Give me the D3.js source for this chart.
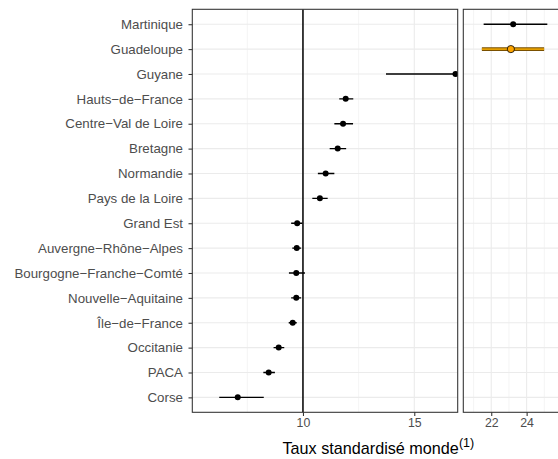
<!DOCTYPE html>
<html><head><meta charset="utf-8">
<script src="https://cdn.jsdelivr.net/npm/d3@7"></script>
<style>body{margin:0;background:#fff}svg{display:block;font-family:"Liberation Sans",Arial,sans-serif}</style>
</head><body><svg id="c" width="558" height="459"></svg>
<script>
// Regions (top to bottom)
const regions = ["Martinique","Guadeloupe","Guyane","Hauts\u2212de\u2212France","Centre\u2212Val de Loire","Bretagne","Normandie","Pays de la Loire","Grand Est","Auvergne\u2212Rh\u00f4ne\u2212Alpes","Bourgogne\u2212Franche\u2212Comt\u00e9","Nouvelle\u2212Aquitaine","\u00cele\u2212de\u2212France","Occitanie","PACA","Corse"];
const panel = ["right","right","left","left","left","left","left","left","left","left","left","left","left","left","left","left"];
const rate  = [23.24,23.11,16.85,11.92,11.80,11.56,11.02,10.76,9.74,9.72,9.70,9.70,9.54,8.91,8.46,7.07];
const lower = [21.57,21.47,13.73,11.63,11.41,11.20,10.67,10.42,9.47,9.52,9.37,9.47,9.36,8.68,8.22,6.24];
const upper = [25.17,24.99,20.50,12.26,12.25,11.94,11.41,11.11,9.97,9.92,10.09,9.92,9.72,9.16,8.74,8.24];
const highlight = ["Guadeloupe"];
const leftTicks = [10,15];
const leftMinor = [7.5,12.5];
const rightTicks = [22,24];
const rightMinor = [21,23,25];
const refValue = 10;

const data = regions.map((r,i)=>({region:r,panel:panel[i],rate:rate[i],lo:lower[i],hi:upper[i]}));
const svg = d3.select("#c");
const pTop = 9.3, pBottom = 412.3;
const y = d3.scalePoint().domain(regions).range([pTop,pBottom]).padding(0.6);

const panels = [
  {key:"left", x0:192.3, x1:457.7, domain:[5.03,16.95], ticks:leftTicks, minor:leftMinor},
  {key:"right", x0:463.3, x1:562, domain:[20.42,26.0], ticks:rightTicks, minor:rightMinor}
];

panels.forEach((p,pi)=>{
  const x = d3.scaleLinear().domain(p.domain).range([p.x0,p.x1]);
  const g = svg.append("g");
  const clipId = "clip"+pi;
  svg.append("clipPath").attr("id",clipId).append("rect")
    .attr("x",p.x0).attr("y",pTop).attr("width",p.x1-p.x0).attr("height",pBottom-pTop);
  g.selectAll(".mn").data(p.minor).join("line")
    .attr("x1",d=>x(d)).attr("x2",d=>x(d)).attr("y1",pTop).attr("y2",pBottom)
    .attr("stroke","#EBEBEB").attr("stroke-width",0.55);
  g.selectAll(".mj").data(p.ticks).join("line")
    .attr("x1",d=>x(d)).attr("x2",d=>x(d)).attr("y1",pTop).attr("y2",pBottom)
    .attr("stroke","#EBEBEB").attr("stroke-width",1.07);
  g.selectAll(".hy").data(regions).join("line")
    .attr("x1",p.x0).attr("x2",p.x1).attr("y1",d=>y(d)).attr("y2",d=>y(d))
    .attr("stroke","#EBEBEB").attr("stroke-width",1.07);
  const m = g.append("g").attr("clip-path",`url(#${clipId})`);
  if (p.key==="left") {
    m.append("line").attr("x1",x(refValue)).attr("x2",x(refValue)).attr("y1",pTop).attr("y2",pBottom)
      .attr("stroke","#000").attr("stroke-width",1.5);
  }
  const pd = data.filter(d=>d.panel===p.key);
  pd.forEach(d=>{
    const hl = highlight.includes(d.region);
    if (hl) {
      m.append("line").attr("x1",x(d.lo)).attr("x2",x(d.hi)).attr("y1",y(d.region)).attr("y2",y(d.region))
        .attr("stroke","#7a5000").attr("stroke-width",3.6);
      m.append("line").attr("x1",x(d.lo)).attr("x2",x(d.hi)).attr("y1",y(d.region)).attr("y2",y(d.region))
        .attr("stroke","#E69F00").attr("stroke-width",1.8);
      m.append("circle").attr("cx",x(d.rate)).attr("cy",y(d.region)).attr("r",3.6)
        .attr("fill","#FFA500").attr("stroke","#000").attr("stroke-width",0.8);
    } else {
      m.append("line").attr("x1",x(d.lo)).attr("x2",x(d.hi)).attr("y1",y(d.region)).attr("y2",y(d.region))
        .attr("stroke","#000").attr("stroke-width",1.4);
      m.append("circle").attr("cx",x(d.rate)).attr("cy",y(d.region)).attr("r",3).attr("fill","#000");
    }
  });
  g.append("rect").attr("x",p.x0).attr("y",pTop).attr("width",p.x1-p.x0).attr("height",pBottom-pTop)
    .attr("fill","none").attr("stroke","#333333").attr("stroke-width",1.07);
  const ax = svg.append("g").attr("transform",`translate(0,${pBottom})`)
    .call(d3.axisBottom(x).tickValues(p.ticks).tickSize(3.8).tickPadding(2.5).tickFormat(d3.format("d")));
  ax.select(".domain").remove();
  ax.selectAll("line").attr("stroke","#333333").attr("stroke-width",1.07);
  ax.selectAll("text").attr("fill","#4D4D4D").style("font-size","12.3px").style("font-family","Liberation Sans, Arial, sans-serif");
});

const ay = svg.append("g").attr("transform","translate(192.3,0)")
  .call(d3.axisLeft(y).tickSize(3.8).tickPadding(5.5));
ay.select(".domain").remove();
ay.selectAll("line").attr("stroke","#333333").attr("stroke-width",1.07);
ay.selectAll("text").attr("fill","#4D4D4D").style("font-size","13.3px").style("font-family","Liberation Sans, Arial, sans-serif");

const t = svg.append("text").attr("x",282.5).attr("y",453.5).attr("fill","#000")
  .style("font-size","16.2px");
t.append("tspan").text("Taux standardis\u00e9 monde");
t.append("tspan").attr("dy",-6.5).style("font-size","12.5px").text("(1)");
</script></body></html>
